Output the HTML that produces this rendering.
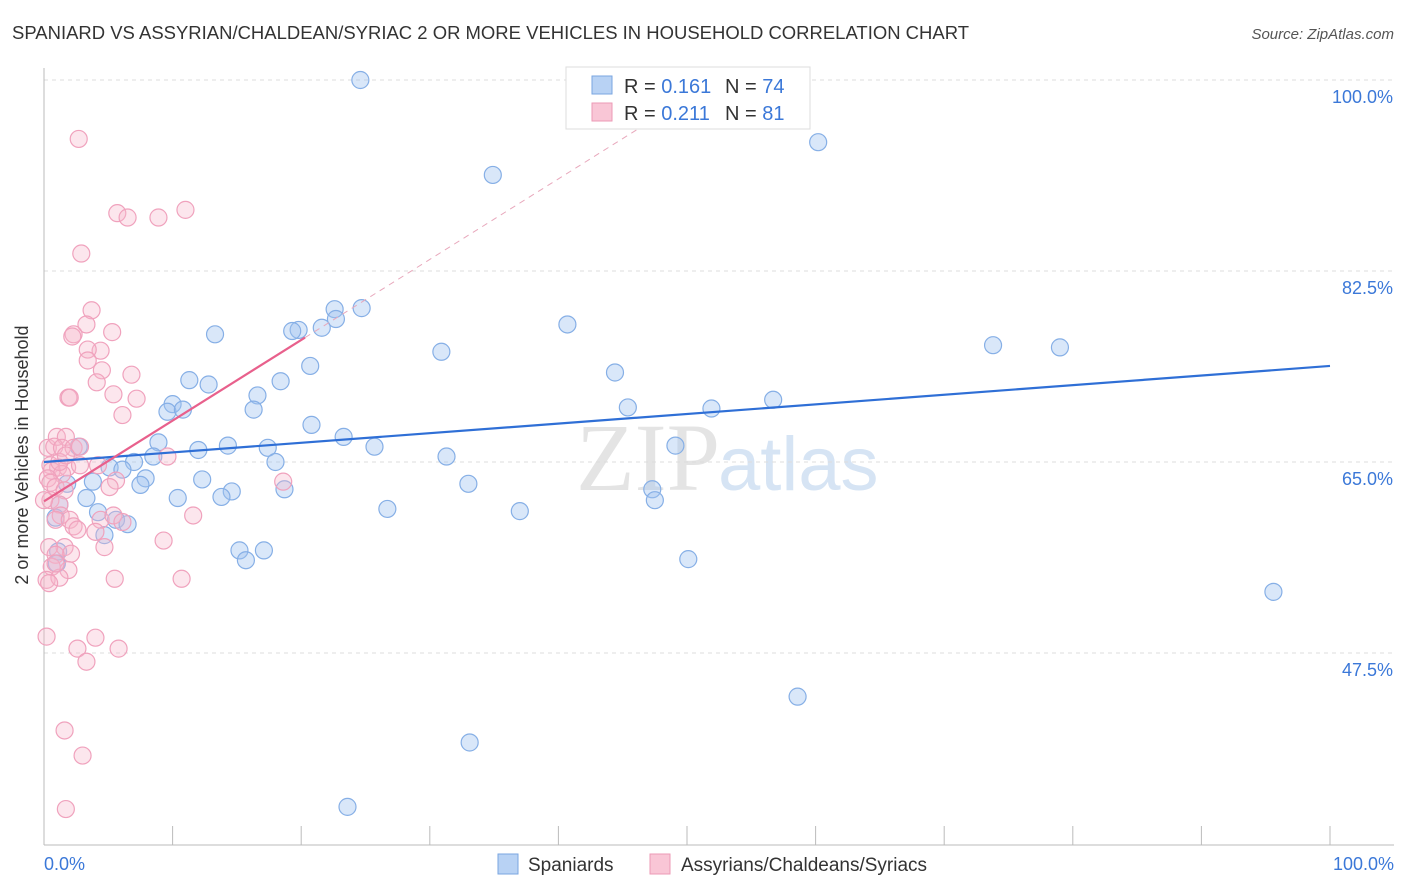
<!DOCTYPE html>
<html><head><meta charset="utf-8">
<style>
body{margin:0;background:#fff;font-family:"Liberation Sans",sans-serif;}
#wrap{position:relative;width:1406px;height:892px;overflow:hidden;}
</style></head>
<body>
<div id="wrap">
<svg id="chart" width="1406" height="892" xmlns="http://www.w3.org/2000/svg">
<text x="12" y="39" font-size="18" fill="#333" textLength="957" lengthAdjust="spacingAndGlyphs">SPANIARD VS ASSYRIAN/CHALDEAN/SYRIAC 2 OR MORE VEHICLES IN HOUSEHOLD CORRELATION CHART</text>
<text x="1394" y="39" font-size="15" fill="#555" text-anchor="end" font-style="italic">Source: ZipAtlas.com</text>
<text x="720" y="490" font-size="96" fill="#e4e4e4" text-anchor="end" font-family="Liberation Serif">ZIP</text>
<text x="718" y="490" font-size="76" fill="#d6e4f4">atlas</text>
<g id="grid"></g>
<g id="axes"></g>
<g id="pts"></g>
<g id="trend"></g>
<text x="28" y="455" font-size="18" fill="#333" text-anchor="middle" transform="rotate(-90 28 455)">2 or more Vehicles in Household</text>
<text x="44" y="870" font-size="18" fill="#3b78d8">0.0%</text>
<text x="1394" y="870" font-size="18" fill="#3b78d8" text-anchor="end">100.0%</text>
<g>
<rect x="566" y="67" width="244" height="62" fill="#fff" stroke="#ddd"/>
<rect x="592" y="76" width="20" height="18" fill="#b8d2f4" stroke="#7aa6e0"/>
<rect x="592" y="103" width="20" height="18" fill="#f9c6d6" stroke="#ec9ab6"/>
<text x="624" y="93" font-size="20" fill="#333">R = <tspan fill="#3b78d8">0.161</tspan></text>
<text x="725" y="93" font-size="20" fill="#333">N = <tspan fill="#3b78d8">74</tspan></text>
<text x="624" y="120" font-size="20" fill="#333">R = <tspan fill="#3b78d8">0.211</tspan></text>
<text x="725" y="120" font-size="20" fill="#333">N = <tspan fill="#3b78d8">81</tspan></text>
</g>
<g>
<rect x="498" y="854" width="20" height="20" fill="#b8d2f4" stroke="#7aa6e0"/>
<text x="528" y="871" font-size="19" fill="#333">Spaniards</text>
<rect x="650" y="854" width="20" height="20" fill="#f9c6d6" stroke="#ec9ab6"/>
<text x="681" y="871" font-size="19" fill="#333">Assyrians/Chaldeans/Syriacs</text>
</g>
</svg>
</div>
<script>
const yTicks=[100,82.5,65,47.5];
const yTickLabels=["100.0%","82.5%","65.0%","47.5%"];
const xTicks=[0,10,20,30,40,50,60,70,80,90,100];
const blueX=[24.6,49.5,60.2,34.9,22.6,24.7,22.7,21.6,19.8,19.3,40.7,13.3,20.7,30.9,73.8,79.0,11.3,12.8,18.4,16.6,44.4,10.0,9.6,10.8,16.3,45.4,51.9,56.7,20.8,23.3,8.9,14.3,12.0,17.4,25.7,31.3,49.1,8.5,7.0,18.0,2.7,5.1,6.1,12.3,7.9,7.5,33.0,1.8,3.8,14.6,13.8,10.4,18.7,3.3,47.3,47.5,26.7,37.0,1.2,4.2,5.6,6.5,0.9,4.7,15.2,17.1,15.7,50.1,95.6,1.1,1.0,58.6,33.1,23.6];
const blueY=[100,100,94.3,91.3,79.0,79.1,78.1,77.3,77.1,77.0,77.6,76.7,73.8,75.1,75.7,75.5,72.5,72.1,72.4,71.1,73.2,70.3,69.6,69.8,69.8,70.0,69.9,70.7,68.4,67.3,66.8,66.5,66.1,66.3,66.4,65.5,66.5,65.5,65.0,65.0,66.4,64.5,64.3,63.4,63.5,62.9,63.0,63.0,63.2,62.3,61.8,61.7,62.5,61.7,62.5,61.5,60.7,60.5,61.1,60.4,59.7,59.3,59.9,58.3,56.9,56.9,56.0,56.1,53.1,56.8,55.7,43.5,39.3,33.4];
const pinkX=[2.7,5.7,6.5,8.9,11.0,2.9,3.7,3.3,2.3,2.2,5.3,4.4,3.4,3.4,4.5,6.8,4.1,1.9,2.0,5.4,7.2,6.1,0.3,1.0,1.7,0.8,1.4,2.3,2.8,9.6,0.5,1.1,1.8,2.8,0.6,1.4,4.2,5.6,5.1,18.6,0.3,0.5,0.9,1.6,0.5,1.2,1.3,0.9,2.0,2.3,4.4,5.4,6.1,11.6,4.0,2.6,1.6,2.1,4.7,9.3,0.4,0.9,1.9,0.6,0.2,1.2,5.5,10.7,0.2,2.6,4.0,5.8,3.3,1.6,3.0,1.7,0.4,0.9,0,1.2,1.7];
const pinkY=[94.6,87.8,87.4,87.4,88.1,84.1,78.9,77.6,76.7,76.5,76.9,75.2,75.3,74.3,73.4,73.0,72.3,70.9,70.9,71.2,70.8,69.3,66.3,67.3,67.3,66.4,66.3,66.3,66.4,65.5,64.7,64.5,64.5,64.7,64.2,63.9,64.7,63.3,62.7,63.2,63.5,63.1,62.7,62.4,61.5,61.1,60.1,59.7,59.7,59.1,59.7,60.1,59.5,60.1,58.6,58.8,57.2,56.6,57.2,57.8,57.2,56.5,55.1,55.4,54.2,54.4,54.3,54.3,49.0,47.9,48.9,47.9,46.7,40.4,38.1,33.2,53.9,55.7,61.5,65.0,65.6];
const blueTrendX=[0,100], blueTrendY=[65.0,73.8];
const pinkTrendX=[0,20.3], pinkTrendY=[61.4,76.4];
const pinkDashX=[20.3,52], pinkDashY=[76.4,99.8];

const X0=44,X1=1330,YTOP=80,PXPER=10.914;
const sx=v=>X0+v*(X1-X0)/100;
const sy=v=>YTOP+(100-v)*PXPER;
const NS="http://www.w3.org/2000/svg";
function mk(tag,attrs,parent){const e=document.createElementNS(NS,tag);for(const k in attrs)e.setAttribute(k,attrs[k]);parent.appendChild(e);return e;}
const grid=document.getElementById('grid'),axes=document.getElementById('axes'),pts=document.getElementById('pts'),trend=document.getElementById('trend');
yTicks.forEach((t,i)=>{
 const l=mk('line',{x1:X0,x2:1394,y1:sy(t),y2:sy(t),stroke:'#ddd','stroke-dasharray':'4,4'},grid);
 
 
 const tx=mk('text',{x:1393,y:sy(t)+23,'font-size':18,fill:'#3b78d8','text-anchor':'end'},grid);
 tx.textContent=yTickLabels[i];
 
 
});
const ax=mk('line',{x1:X0,x2:X0,y1:68,y2:845,stroke:'#bbb'},axes);


const bx=mk('line',{x1:X0,x2:1394,y1:845,y2:845,stroke:'#bbb'},axes);


xTicks.forEach(t=>{
 const l=mk('line',{x1:sx(t),x2:sx(t),y1:826,y2:845,stroke:'#bbb'},axes);
 
 
});
blueX.forEach((v,i)=>{
 const c=mk('circle',{cx:sx(v),cy:sy(blueY[i]),r:8.5,fill:'rgba(160,196,240,0.4)',stroke:'#86afe6','stroke-width':1.2},pts);
 
 
});
pinkX.forEach((v,i)=>{
 const c=mk('circle',{cx:sx(v),cy:sy(pinkY[i]),r:8.5,fill:'rgba(246,182,204,0.35)',stroke:'#f0a2bd','stroke-width':1.2},pts);
 
 
});
const bt=mk('line',{x1:sx(blueTrendX[0]),y1:sy(blueTrendY[0]),x2:sx(blueTrendX[1]),y2:sy(blueTrendY[1]),stroke:'#2f6fd6','stroke-width':2.2},trend);


const pd=mk('line',{x1:sx(pinkDashX[0]),y1:sy(pinkDashY[0]),x2:sx(pinkDashX[1]),y2:sy(pinkDashY[1]),stroke:'#e8a8bc','stroke-width':1,'stroke-dasharray':'6,5'},trend);


const pt=mk('line',{x1:sx(pinkTrendX[0]),y1:sy(pinkTrendY[0]),x2:sx(pinkTrendX[1]),y2:sy(pinkTrendY[1]),stroke:'#e8608c','stroke-width':2.2},trend);


</script>
</body></html>
